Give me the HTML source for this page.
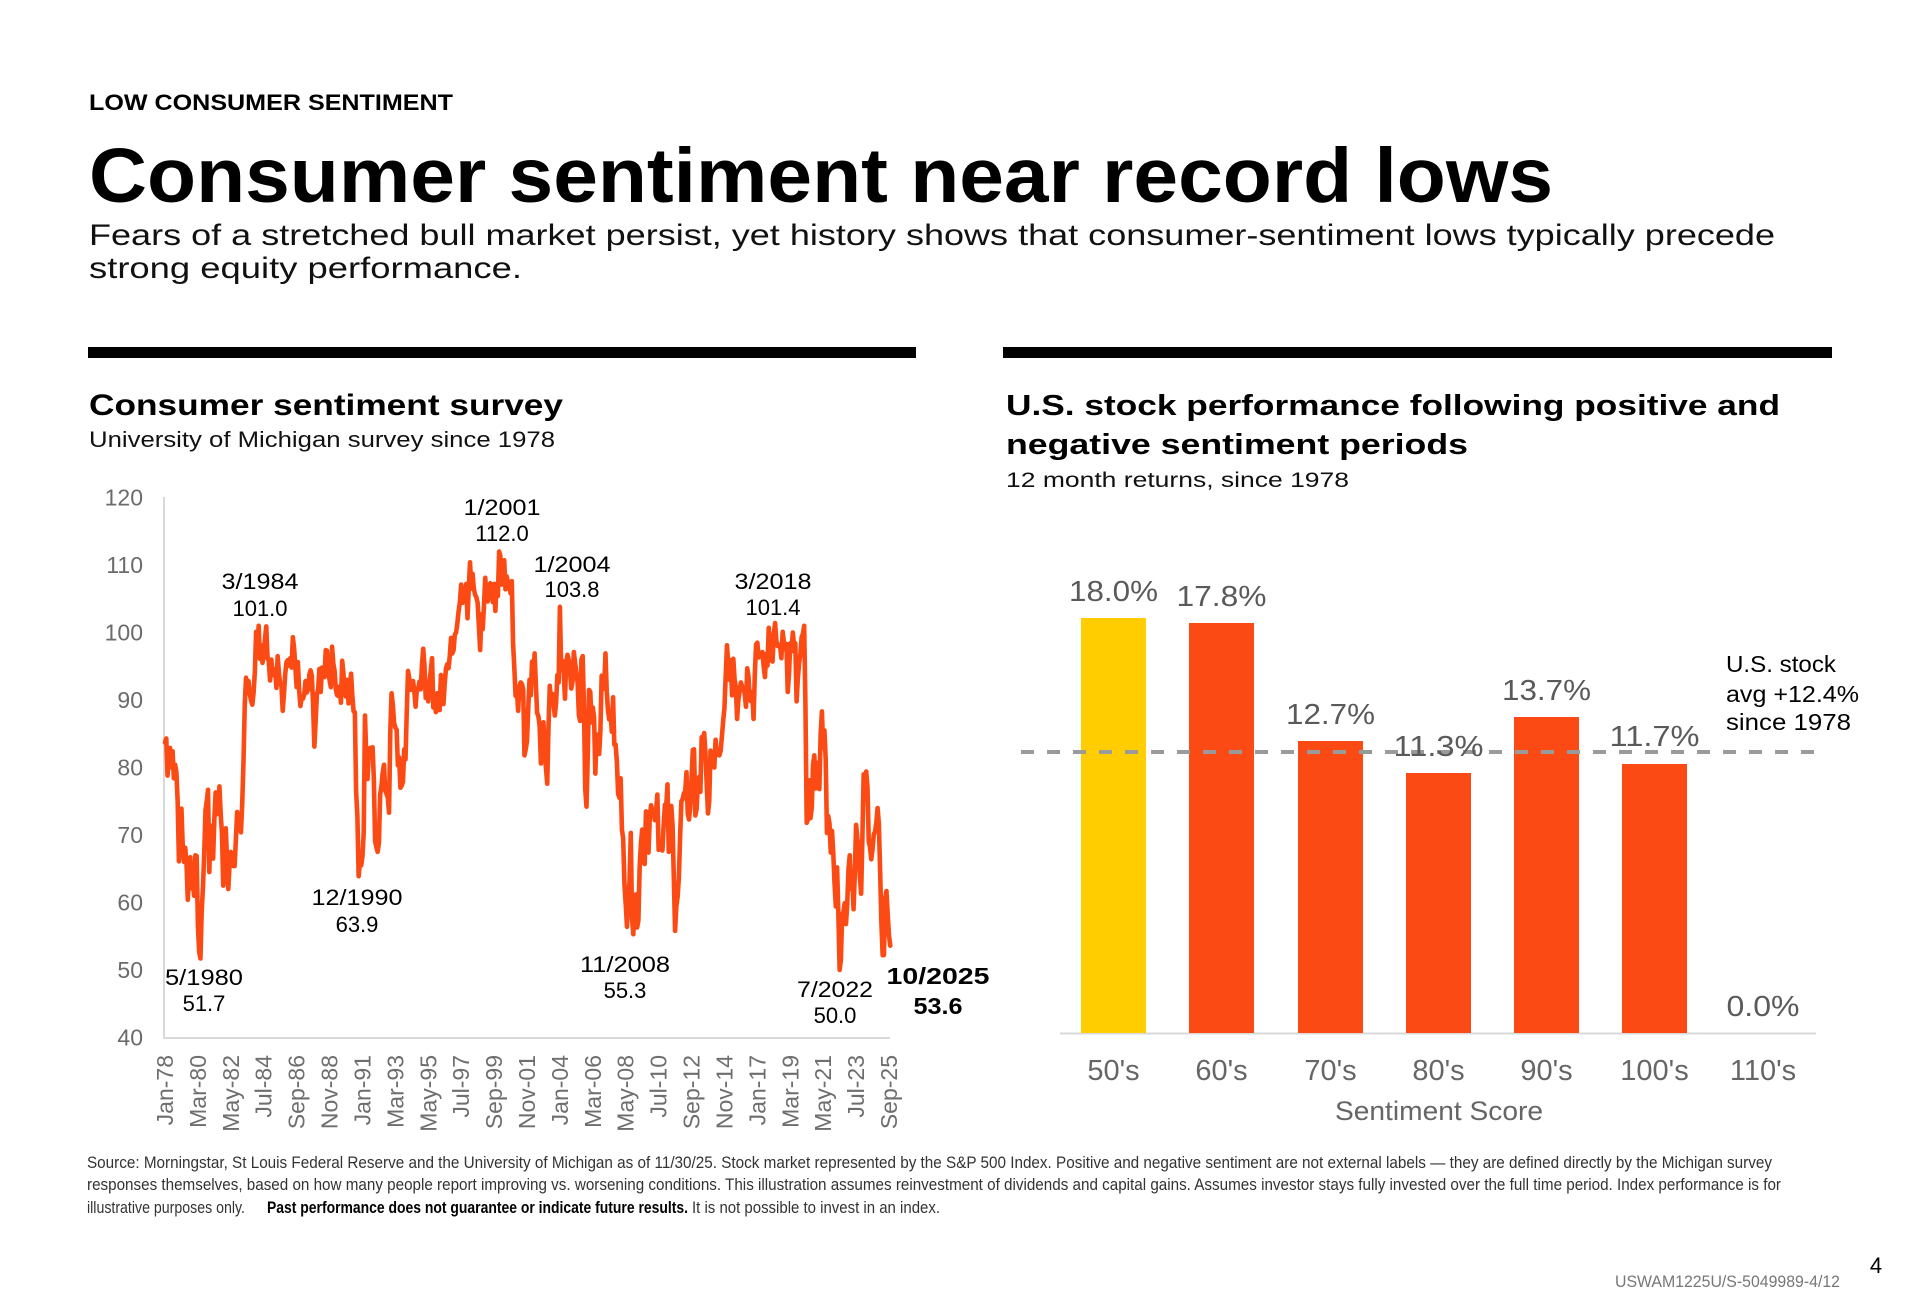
<!DOCTYPE html>
<html>
<head>
<meta charset="utf-8">
<style>
html,body{margin:0;padding:0;background:#fff;}
svg{display:block;}
text{font-family:"Liberation Sans",sans-serif;}
</style>
</head>
<body>
<svg width="1920" height="1309" viewBox="0 0 1920 1309" xmlns="http://www.w3.org/2000/svg">
<rect width="1920" height="1309" fill="#fff"/>

<!-- Header -->
<text x="89" y="110" font-size="22" font-weight="bold" fill="#000" textLength="364" lengthAdjust="spacingAndGlyphs">LOW CONSUMER SENTIMENT</text>
<text x="89" y="202" font-size="77" font-weight="bold" fill="#000" textLength="1464" lengthAdjust="spacingAndGlyphs">Consumer sentiment near record lows</text>
<text x="89" y="245" font-size="30" fill="#111" textLength="1686" lengthAdjust="spacingAndGlyphs">Fears of a stretched bull market persist, yet history shows that consumer-sentiment lows typically precede</text>
<text x="89" y="278" font-size="30" fill="#111" textLength="433" lengthAdjust="spacingAndGlyphs">strong equity performance.</text>

<!-- Divider bars -->
<rect x="88" y="347" width="828" height="11" fill="#000"/>
<rect x="1003" y="347" width="829" height="11" fill="#000"/>

<!-- Left chart titles -->
<text x="89" y="415" font-size="30" font-weight="bold" fill="#000" textLength="474" lengthAdjust="spacingAndGlyphs">Consumer sentiment survey</text>
<text x="89" y="447" font-size="22" fill="#111" textLength="466" lengthAdjust="spacingAndGlyphs">University of Michigan survey since 1978</text>

<!-- Right chart titles -->
<text x="1006" y="415" font-size="29" font-weight="bold" fill="#000" textLength="774" lengthAdjust="spacingAndGlyphs">U.S. stock performance following positive and</text>
<text x="1006" y="454" font-size="29" font-weight="bold" fill="#000" textLength="462" lengthAdjust="spacingAndGlyphs">negative sentiment periods</text>
<text x="1006" y="487" font-size="21" fill="#111" textLength="343" lengthAdjust="spacingAndGlyphs">12 month returns,  since 1978</text>

<!-- Left chart axes -->
<line x1="164" y1="497" x2="164" y2="1038" stroke="#d9d9d9" stroke-width="2"/>
<line x1="163" y1="1038" x2="890" y2="1038" stroke="#d9d9d9" stroke-width="2"/>

<g font-size="23" fill="#6b6b6b" text-anchor="end">
<text x="143" y="505.5">120</text>
<text x="143" y="573">110</text>
<text x="143" y="640.5">100</text>
<text x="143" y="708">90</text>
<text x="143" y="775.5">80</text>
<text x="143" y="843">70</text>
<text x="143" y="910.5">60</text>
<text x="143" y="978">50</text>
<text x="143" y="1045.5">40</text>
</g>

<g font-size="23" fill="#6e6e6e" text-anchor="end">
<text transform="translate(173,1055) rotate(-90)">Jan-78</text>
<text transform="translate(205.9,1055) rotate(-90)">Mar-80</text>
<text transform="translate(238.8,1055) rotate(-90)">May-82</text>
<text transform="translate(271.7,1055) rotate(-90)">Jul-84</text>
<text transform="translate(304.6,1055) rotate(-90)">Sep-86</text>
<text transform="translate(337.5,1055) rotate(-90)">Nov-88</text>
<text transform="translate(370.5,1055) rotate(-90)">Jan-91</text>
<text transform="translate(403.4,1055) rotate(-90)">Mar-93</text>
<text transform="translate(436.3,1055) rotate(-90)">May-95</text>
<text transform="translate(469.2,1055) rotate(-90)">Jul-97</text>
<text transform="translate(502.1,1055) rotate(-90)">Sep-99</text>
<text transform="translate(535,1055) rotate(-90)">Nov-01</text>
<text transform="translate(567.9,1055) rotate(-90)">Jan-04</text>
<text transform="translate(600.8,1055) rotate(-90)">Mar-06</text>
<text transform="translate(633.7,1055) rotate(-90)">May-08</text>
<text transform="translate(666.7,1055) rotate(-90)">Jul-10</text>
<text transform="translate(699.6,1055) rotate(-90)">Sep-12</text>
<text transform="translate(732.5,1055) rotate(-90)">Nov-14</text>
<text transform="translate(765.4,1055) rotate(-90)">Jan-17</text>
<text transform="translate(798.3,1055) rotate(-90)">Mar-19</text>
<text transform="translate(831.2,1055) rotate(-90)">May-21</text>
<text transform="translate(864.1,1055) rotate(-90)">Jul-23</text>
<text transform="translate(897,1055) rotate(-90)">Sep-25</text>
</g>

<!-- Sentiment line -->
<polyline transform="translate(165,1307.5) scale(1.2657,-6.75)" fill="none" stroke="#FC4A14" stroke-width="4.6" stroke-linejoin="round" stroke-linecap="round" vector-effect="non-scaling-stroke" points="
0,83.7 1,84.3 2,78.8 3,81.6 4,82.9 5,80.0 6,82.4 7,78.4 8,80.4 9,79.3 10,75.0 11,66.1
12,72.1 13,73.9 14,68.4 15,66.0 16,68.1 17,65.8 18,60.4 19,64.5 20,66.7 21,62.1 22,63.3 23,61.0
24,67.0 25,66.9 26,56.5 27,52.7 28,51.7 29,58.7 30,62.3 31,67.3 32,73.7 33,75.0 34,76.7 35,64.5
36,71.4 37,66.9 38,66.5 39,72.4 40,76.3 41,73.1 42,74.1 43,77.2 44,73.1 45,70.3 46,62.5 47,64.3
48,71.0 49,66.5 50,62.0 51,65.5 52,67.5 53,65.7 54,65.4 55,65.4 56,69.3 57,73.4 58,72.1 59,71.9
60,70.4 61,74.6 62,80.8 63,89.1 64,93.3 65,92.2 66,92.8 67,90.9 68,89.9 69,89.3 70,91.1 71,94.2
72,100.1 73,97.4 74,101.0 75,96.1 76,98.1 77,95.5 78,96.6 79,99.1 80,100.9 81,96.3 82,95.7 83,92.9
84,96.0 85,93.7 86,93.7 87,94.6 88,91.8 89,96.5 90,94.0 91,92.4 92,92.1 93,88.4 94,90.9 95,93.9
96,95.6 97,95.9 98,95.1 99,96.2 100,94.8 101,99.3 102,97.7 103,94.9 104,91.9 105,95.6 106,91.4 107,89.1
108,90.4 109,90.2 110,90.8 111,92.8 112,91.1 113,91.5 114,93.7 115,94.4 116,93.6 117,89.3 118,83.1 119,86.8
120,90.8 121,91.6 122,94.6 123,91.2 124,94.8 125,94.7 126,93.4 127,97.4 128,97.3 129,94.1 130,93.0 131,91.9
132,97.9 133,95.4 134,94.3 135,91.5 136,90.7 137,90.6 138,92.0 139,89.6 140,95.8 141,93.9 142,90.9 143,90.5
144,93.0 145,89.5 146,91.3 147,93.9 148,90.6 149,88.3 150,88.2 151,76.4 152,72.8 153,63.9 154,66.0 155,65.5
156,66.8 157,70.4 158,87.7 159,81.8 160,78.3 161,82.1 162,82.9 163,82.0 164,83.0 165,78.3 166,69.1 167,68.2
168,67.5 169,68.8 170,76.0 171,77.2 172,79.2 173,80.4 174,76.6 175,76.1 176,75.6 177,73.3 178,85.3 179,91.0
180,89.3 181,86.6 182,85.9 183,85.6 184,80.3 185,81.5 186,77.0 187,77.3 188,77.9 189,82.7 190,81.2 191,88.2
192,94.3 193,93.2 194,91.5 195,92.6 196,92.8 197,91.2 198,89.0 199,91.7 200,91.5 201,92.7 202,91.6 203,95.1
204,97.6 205,95.1 206,90.3 207,92.5 208,89.8 209,92.7 210,94.4 211,96.2 212,88.9 213,90.2 214,88.2 215,91.0
216,89.3 217,88.5 218,93.7 219,92.7 220,89.4 221,92.4 222,94.7 223,95.3 224,94.7 225,96.5 226,99.2 227,96.9
228,97.4 229,99.7 230,100.0 231,101.4 232,103.2 233,104.5 234,107.1 235,104.4 236,106.0 237,105.6 238,107.2 239,102.1
240,106.6 241,110.4 242,106.5 243,108.7 244,106.5 245,105.6 246,105.2 247,104.4 248,100.9 249,97.4 250,102.7 251,100.5
252,103.9 253,108.1 254,105.7 255,104.6 256,106.8 257,107.3 258,106.0 259,104.5 260,107.2 261,103.2 262,107.2 263,105.4
264,112.0 265,111.3 266,107.1 267,109.2 268,110.7 269,106.4 270,108.3 271,107.3 272,106.8 273,105.8 274,107.6 275,98.4
276,94.7 277,90.6 278,91.5 279,88.4 280,92.0 281,92.6 282,92.4 283,91.5 284,81.8 285,82.7 286,83.9 287,88.8
288,93.0 289,90.7 290,95.7 291,93.0 292,96.9 293,92.4 294,88.1 295,87.6 296,86.1 297,80.6 298,84.2 299,86.7
300,82.4 301,79.9 302,77.6 303,86.0 304,92.1 305,89.7 306,90.9 307,89.3 308,87.7 309,89.6 310,93.7 311,92.6
312,103.8 313,94.4 314,95.8 315,94.2 316,90.2 317,95.6 318,96.7 319,95.9 320,94.2 321,91.7 322,92.8 323,97.1
324,95.5 325,94.1 326,92.6 327,87.7 328,86.9 329,96.0 330,96.5 331,89.1 332,76.9 333,74.2 334,81.6 335,91.5
336,91.2 337,86.7 338,88.9 339,87.4 340,79.1 341,84.9 342,84.7 343,82.0 344,85.4 345,93.6 346,92.1 347,91.7
348,96.9 349,91.3 350,88.4 351,87.1 352,88.3 353,85.3 354,90.4 355,83.4 356,83.4 357,80.9 358,76.1 359,75.5
360,78.4 361,70.8 362,69.5 363,62.6 364,59.8 365,56.4 366,61.2 367,63.0 368,70.3 369,57.6 370,55.3 371,60.1
372,61.2 373,56.3 374,57.3 375,65.1 376,68.7 377,70.8 378,66.0 379,65.7 380,73.5 381,70.6 382,67.4 383,72.5
384,74.4 385,73.6 386,73.6 387,72.2 388,73.6 389,76.0 390,67.8 391,68.9 392,68.2 393,67.7 394,71.6 395,74.5
396,74.2 397,77.5 398,67.5 399,69.8 400,74.3 401,71.5 402,63.7 403,55.8 404,59.5 405,60.8 406,63.7 407,69.9
408,75.0 409,75.3 410,76.2 411,76.4 412,79.3 413,73.2 414,72.3 415,74.3 416,78.3 417,82.6 418,82.7 419,72.9
420,73.8 421,77.6 422,78.6 423,76.4 424,84.5 425,84.1 426,85.1 427,82.1 428,77.5 429,73.2 430,75.1 431,82.5
432,81.2 433,81.6 434,80.0 435,84.1 436,81.9 437,82.5 438,81.8 439,82.5 440,84.6 441,86.9 442,88.8 443,93.6
444,98.1 445,95.4 446,93.0 447,95.9 448,90.7 449,96.1 450,93.1 451,91.9 452,87.2 453,90.0 454,91.3 455,92.6
456,92.0 457,91.7 458,91.0 459,89.0 460,94.7 461,93.5 462,90.0 463,89.8 464,91.2 465,87.2 466,93.8 467,98.2
468,98.5 469,96.3 470,96.9 471,97.0 472,97.1 473,95.0 474,93.4 475,96.8 476,95.1 477,100.7 478,98.5 479,95.9
480,95.7 481,99.7 482,101.4 483,98.8 484,98.0 485,98.2 486,97.9 487,96.2 488,100.1 489,98.6 490,97.5 491,98.3
492,91.2 493,93.8 494,98.4 495,97.2 496,100.0 497,98.2 498,98.4 499,89.8 500,93.2 501,95.5 502,96.8 503,99.3
504,99.8 505,101.0 506,89.1 507,71.8 508,72.3 509,78.1 510,72.5 511,74.1 512,80.4 513,81.8 514,76.9 515,80.7
516,79.0 517,76.8 518,84.9 519,88.3 520,82.9 521,85.5 522,81.2 523,70.3 524,72.8 525,71.7 526,67.4 527,70.6
528,67.2 529,62.8 530,59.4 531,65.2 532,58.4 533,50.0 534,51.5 535,58.2 536,58.6 537,59.9 538,56.8 539,59.7
540,64.9 541,67.0 542,62.0 543,63.7 544,59.0 545,64.2 546,71.5 547,69.5 548,67.9 549,63.8 550,61.3 551,69.7
552,79.0 553,76.9 554,79.4 555,77.2 556,69.1 557,68.2 558,66.4 559,67.9 560,70.1 561,70.5 562,71.8 563,74.0
564,71.7 565,64.7 566,57.0 567,52.2 568,52.2 569,60.7 570,61.7 571,58.2 572,55.1 573,53.6"/>

<!-- Left chart annotations -->
<g font-size="22" fill="#000" text-anchor="middle">
<text x="204" y="985" textLength="78" lengthAdjust="spacingAndGlyphs">5/1980</text>
<text x="204" y="1011">51.7</text>
<text x="260" y="589" textLength="77" lengthAdjust="spacingAndGlyphs">3/1984</text>
<text x="260" y="616">101.0</text>
<text x="357" y="905" textLength="91" lengthAdjust="spacingAndGlyphs">12/1990</text>
<text x="357" y="932">63.9</text>
<text x="502" y="515" textLength="77" lengthAdjust="spacingAndGlyphs">1/2001</text>
<text x="502" y="541">112.0</text>
<text x="572" y="572" textLength="77" lengthAdjust="spacingAndGlyphs">1/2004</text>
<text x="572" y="597">103.8</text>
<text x="625" y="972" textLength="90" lengthAdjust="spacingAndGlyphs">11/2008</text>
<text x="625" y="998">55.3</text>
<text x="773" y="589" textLength="77" lengthAdjust="spacingAndGlyphs">3/2018</text>
<text x="773" y="615">101.4</text>
<text x="835" y="997" textLength="76" lengthAdjust="spacingAndGlyphs">7/2022</text>
<text x="835" y="1023">50.0</text>
</g>
<g font-size="23" font-weight="bold" fill="#000" text-anchor="middle">
<text x="938" y="984" textLength="103" lengthAdjust="spacingAndGlyphs">10/2025</text>
<text x="938" y="1014" textLength="49" lengthAdjust="spacingAndGlyphs">53.6</text>
</g>

<!-- Right chart -->
<line x1="1060" y1="1033.5" x2="1816" y2="1033.5" stroke="#d9d9d9" stroke-width="2"/>
<rect x="1081" y="618" width="65" height="415" fill="#FFCD00"/>
<rect x="1189" y="623" width="65" height="410" fill="#FC4A14"/>
<rect x="1298" y="741" width="65" height="292" fill="#FC4A14"/>
<rect x="1406" y="773" width="65" height="260" fill="#FC4A14"/>
<rect x="1514" y="717" width="65" height="316" fill="#FC4A14"/>
<rect x="1622" y="764" width="65" height="269" fill="#FC4A14"/>

<line x1="1021" y1="752" x2="1825" y2="752" stroke="#9a9a9a" stroke-width="4" stroke-dasharray="13 13"/>

<g font-size="29" fill="#5a5a5a" text-anchor="middle">
<text x="1113.5" y="601" textLength="89" lengthAdjust="spacingAndGlyphs">18.0%</text>
<text x="1221.5" y="606" textLength="90" lengthAdjust="spacingAndGlyphs">17.8%</text>
<text x="1330.5" y="724" textLength="89" lengthAdjust="spacingAndGlyphs">12.7%</text>
<text x="1438.5" y="756" textLength="90" lengthAdjust="spacingAndGlyphs">11.3%</text>
<text x="1546.5" y="700" textLength="89" lengthAdjust="spacingAndGlyphs">13.7%</text>
<text x="1654.5" y="746" textLength="90" lengthAdjust="spacingAndGlyphs">11.7%</text>
<text x="1763" y="1016" textLength="73" lengthAdjust="spacingAndGlyphs">0.0%</text>
</g>

<g font-size="29" fill="#666" text-anchor="middle">
<text x="1113.5" y="1080">50's</text>
<text x="1221.5" y="1080">60's</text>
<text x="1330.5" y="1080">70's</text>
<text x="1438.5" y="1080">80's</text>
<text x="1546.5" y="1080">90's</text>
<text x="1654.5" y="1080">100's</text>
<text x="1763" y="1080">110's</text>
</g>
<text x="1439" y="1120" font-size="27" fill="#666" text-anchor="middle" textLength="208" lengthAdjust="spacingAndGlyphs">Sentiment Score</text>

<g font-size="23" fill="#000">
<text x="1726" y="672" textLength="110" lengthAdjust="spacingAndGlyphs">U.S. stock</text>
<text x="1726" y="702" textLength="133" lengthAdjust="spacingAndGlyphs">avg +12.4%</text>
<text x="1726" y="730" textLength="125" lengthAdjust="spacingAndGlyphs">since 1978</text>
</g>

<!-- Footnote -->
<g font-size="17" fill="#333">
<text x="87" y="1168" textLength="1685" lengthAdjust="spacingAndGlyphs">Source: Morningstar, St Louis Federal Reserve and the University of Michigan as of 11/30/25. Stock market represented by the S&amp;P 500 Index. Positive and negative sentiment are not external labels — they are defined directly by the Michigan survey</text>
<text x="87" y="1190" textLength="1694" lengthAdjust="spacingAndGlyphs">responses themselves, based on how many people report improving vs. worsening conditions.  This illustration assumes reinvestment of dividends and capital gains.  Assumes investor stays fully invested over the full time period. Index performance is for</text>
<text x="87" y="1213" textLength="158" lengthAdjust="spacingAndGlyphs">illustrative purposes only.</text>
<text x="267" y="1213" font-weight="bold" fill="#000" textLength="421" lengthAdjust="spacingAndGlyphs">Past performance does not guarantee or indicate future results.</text>
<text x="692" y="1213" textLength="248" lengthAdjust="spacingAndGlyphs">It is not possible to invest in an index.</text>
</g>

<text x="1876" y="1273" font-size="22" fill="#000" text-anchor="middle">4</text>
<text x="1615" y="1287" font-family="Liberation Serif, serif" font-size="17" fill="#777" textLength="225" lengthAdjust="spacingAndGlyphs">USWAM1225U/S-5049989-4/12</text>
</svg>
</body>
</html>
